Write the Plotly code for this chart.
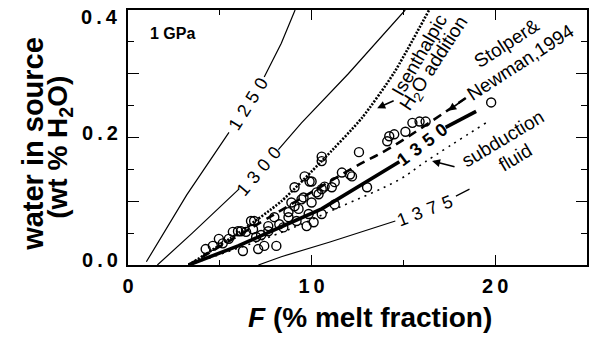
import plotly.graph_objects as go

# ---- data ----
F_obs = [5.16, 5.71, 6.15, 6.43, 6.70, 6.26, 6.87, 7.09, 7.42, 8.08, 5.99, 6.81, 7.64, 7.64,
         7.97, 8.24, 8.74, 8.74, 8.90, 9.07, 9.07, 9.29, 9.45, 9.56, 9.62, 9.73, 9.84, 9.89,
         10.0, 10.0, 10.11, 10.27, 10.38, 10.55, 10.55, 10.55, 10.55, 10.71, 11.1, 11.26,
         11.26, 11.65, 12.09, 12.2, 12.58, 13.02, 14.12, 14.23, 14.5, 15.11, 15.49, 15.88,
         16.21, 19.78, 4.23, 4.62, 4.95, 5.49, 6.98, 7.25, 8.46, 9.18]
W_obs = [0.034, 0.052, 0.053, 0.052, 0.069, 0.022, 0.069, 0.025, 0.030, 0.030, 0.053, 0.056,
         0.053, 0.061, 0.075, 0.064, 0.075, 0.083, 0.098, 0.122, 0.092, 0.088, 0.103, 0.106,
         0.139, 0.061, 0.080, 0.131, 0.131, 0.098, 0.067, 0.114, 0.111, 0.170, 0.163, 0.119,
         0.080, 0.123, 0.122, 0.130, 0.095, 0.145, 0.142, 0.139, 0.177, 0.122, 0.194, 0.202,
         0.205, 0.209, 0.223, 0.225, 0.225, 0.255, 0.025, 0.030, 0.041, 0.041, 0.044, 0.047,
         0.059, 0.069]

# isotherms (None = gap for the label)
F_1250 = [1.0, 3.2, 5.5, None, 7.42, 8.35, 9.1]
W_1250 = [0.005, 0.11, 0.208, None, 0.295, 0.348, 0.4]
F_1300 = [1.6, 3.5, 6.04, None, 8.19, 9.45, 12.0, 15.1]
W_1300 = [0.0, 0.05, 0.119, None, 0.181, 0.223, 0.30, 0.4]
F_1350 = [3.3, 6.0, 8.35, 10.55, 14.78, None, 17.3, 18.96]
W_1350 = [0.0, 0.03, 0.06, 0.088, 0.162, None, 0.216, 0.241]
F_1375 = [7.1, 8.35, 11.0, 14.56, None, 17.86, 18.6]
W_1375 = [0.0, 0.013, 0.036, 0.069, None, 0.108, 0.119]

# model paths
F_isen = [3.3, 6.0, 8.35, 10.55, 12.75, 14.5, 16.4]
W_isen = [0.0, 0.05, 0.10, 0.163, 0.231, 0.302, 0.40]
F_sn = [3.3, 8.0, 12.3, 14.3, 18.4]
W_sn = [0.0, 0.08, 0.153, 0.184, 0.262]
F_sub = [3.3, 8.35, 11.26, 14.78, 16.2, 19.5]
W_sub = [0.0, 0.051, 0.0875, 0.134, 0.162, 0.223]

iso_labels = ["1250", "1300", "1350", "1375"]
iso_label_F = [6.54, 7.14, 16.0, 16.15]
iso_label_W = [0.253, 0.147, 0.189, 0.084]
iso_label_angle = [-58, -50, -37, -21]
iso_label_bold = [False, False, True, False]

x_ticks = [0, 10, 20]
x_tick_text = ["0", "1\u20090", "2\u20090"]
y_ticks = [0.0, 0.2, 0.4]
y_tick_text = ["0\u2009.\u20090", "0\u2009.\u20092", "0\u2009.\u20094"]
y_tick_nudge = [5.5, 4.5, -7]
y_unlabelled_ticks = [0.1, 0.3]

FONT = "Liberation Sans, Arial, Helvetica, sans-serif"

fig = go.Figure()

thin = dict(color="black", width=1.2)
for fx, wy in [(F_1250, W_1250), (F_1300, W_1300), (F_1375, W_1375)]:
    fig.add_trace(go.Scatter(x=fx, y=wy, mode="lines", line=thin, connectgaps=False,
                             hoverinfo="skip", showlegend=False))
fig.add_trace(go.Scatter(x=F_1350, y=W_1350, mode="lines", line=dict(color="black", width=3.6),
                         connectgaps=False, showlegend=False))
fig.add_trace(go.Scatter(x=F_isen, y=W_isen, mode="lines",
                         line=dict(color="black", width=2.6, dash="2px,1.5px", shape="spline",
                                   smoothing=0.6),
                         showlegend=False))
fig.add_trace(go.Scatter(x=F_sn, y=W_sn, mode="lines",
                         line=dict(color="black", width=2.6, dash="9px,6px", shape="spline"),
                         showlegend=False))
fig.add_trace(go.Scatter(x=F_sub, y=W_sub, mode="lines",
                         line=dict(color="black", width=1.6, dash="2px,5px", shape="spline"),
                         showlegend=False))
fig.add_trace(go.Scatter(x=F_obs, y=W_obs, mode="markers",
                         marker=dict(symbol="circle-open", size=9, color="black",
                                     line=dict(width=1.4, color="black")),
                         showlegend=False))
# invisible trace for the secondary (tick-only) y axis
fig.add_trace(go.Scatter(x=[None], y=[None], yaxis="y2", showlegend=False, hoverinfo="skip"))

ann = []
for t, fx, wy, a, b in zip(iso_labels, iso_label_F, iso_label_W, iso_label_angle, iso_label_bold):
    s = "\u2004".join(t)
    ann.append(dict(x=fx, y=wy, text=f"<b>{s}</b>" if b else s, textangle=a, showarrow=False,
                    font=dict(family=FONT, size=18, color="black"),
                    xanchor="center", yanchor="middle"))

for v, t, n in zip(y_ticks, y_tick_text, y_tick_nudge):
    ann.append(dict(xref="paper", x=0, y=v, xshift=-8, yshift=n, text=f"<b>{t}</b>",
                    showarrow=False, xanchor="right", yanchor="middle",
                    font=dict(family=FONT, size=20, color="black")))

txt_font = dict(family=FONT, size=19, color="black")
ann += [
    dict(x=15.85, y=0.329, text="Isenthalpic", textangle=-60, showarrow=False, font=txt_font),
    dict(x=16.7, y=0.315, text="H<sub>2</sub>O addition", textangle=-57, showarrow=False, font=txt_font),
    dict(x=20.6, y=0.348, text="Stolper&", textangle=-33, showarrow=False, font=txt_font),
    dict(x=21.36, y=0.318, text="Newman,1994", textangle=-33, showarrow=False, font=txt_font),
    dict(x=20.43, y=0.198, text="subduction", textangle=-31, showarrow=False, font=txt_font),
    dict(x=21.1, y=0.168, text="fluid", textangle=-31, showarrow=False, font=txt_font),
    dict(x=1.07, y=0.363, text="<b>1 GPa</b>", showarrow=False, xanchor="left", yanchor="middle",
         font=dict(family=FONT, size=16, color="black")),
    # arrows
    dict(x=13.57, y=0.246, ax=18, ay=-8, text="", showarrow=True, arrowhead=2, arrowsize=1,
         arrowwidth=1.6, arrowcolor="black"),
    dict(x=17.44, y=0.242, ax=18, ay=-13, text="", showarrow=True, arrowhead=2, arrowsize=1,
         arrowwidth=1.6, arrowcolor="black"),
    dict(x=16.56, y=0.163, ax=24, ay=6, text="", showarrow=True, arrowhead=2, arrowsize=1,
         arrowwidth=1.6, arrowcolor="black"),
    # axis titles
    dict(xref="paper", yref="paper", x=0.527, y=-0.205, text="<b><i>F</i> (% melt fraction)</b>",
         showarrow=False, xanchor="center", yanchor="middle",
         font=dict(family=FONT, size=28, color="black")),
    dict(xref="paper", yref="paper", x=-0.207, y=0.475, text="<b>water in source</b>",
         textangle=-90, showarrow=False, xanchor="center", yanchor="middle",
         font=dict(family=FONT, size=29, color="black")),
    dict(xref="paper", yref="paper", x=-0.148, y=0.46, text="<b>(wt % H<sub>2</sub>O)</b>",
         textangle=-90, showarrow=False, xanchor="center", yanchor="middle",
         font=dict(family=FONT, size=28, color="black")),
]

axis_common = dict(showline=True, linecolor="black", linewidth=1.5, mirror="ticks",
                   ticks="inside", tickcolor="black", showgrid=False, zeroline=False,
                   automargin=False)

fig.update_layout(
    width=590, height=342,
    margin=dict(l=128.4, r=3.3, t=9.5, b=76.5, autoexpand=False),
    paper_bgcolor="white", plot_bgcolor="white",
    annotations=ann,
    xaxis=dict(range=[0, 25], tickvals=x_ticks, ticktext=x_tick_text, ticklen=10, tickwidth=1.3,
               minor=dict(dtick=5, ticklen=5, ticks="inside", tickcolor="black", tickwidth=1.2),
               ticklabelstandoff=2,
               tickfont=dict(family=FONT, size=20, color="black", weight="bold"),
               **axis_common),
    yaxis=dict(range=[0, 0.4], tickvals=y_ticks, showticklabels=False, ticklen=11, tickwidth=1.3,
               minor=dict(dtick=0.05, ticklen=6, ticks="inside", tickcolor="black", tickwidth=1.2),
               **axis_common),
    yaxis2=dict(range=[0, 0.4], overlaying="y", side="left", tickvals=y_unlabelled_ticks,
                showticklabels=False, ticks="inside", ticklen=11, tickwidth=1.3, tickcolor="black",
                showline=True, linecolor="black", linewidth=1.5, mirror="ticks",
                showgrid=False, zeroline=False, automargin=False),
)

fig.write_html("out.html", config={"displayModeBar": False},
               post_script="document.body.style.margin='0';")
